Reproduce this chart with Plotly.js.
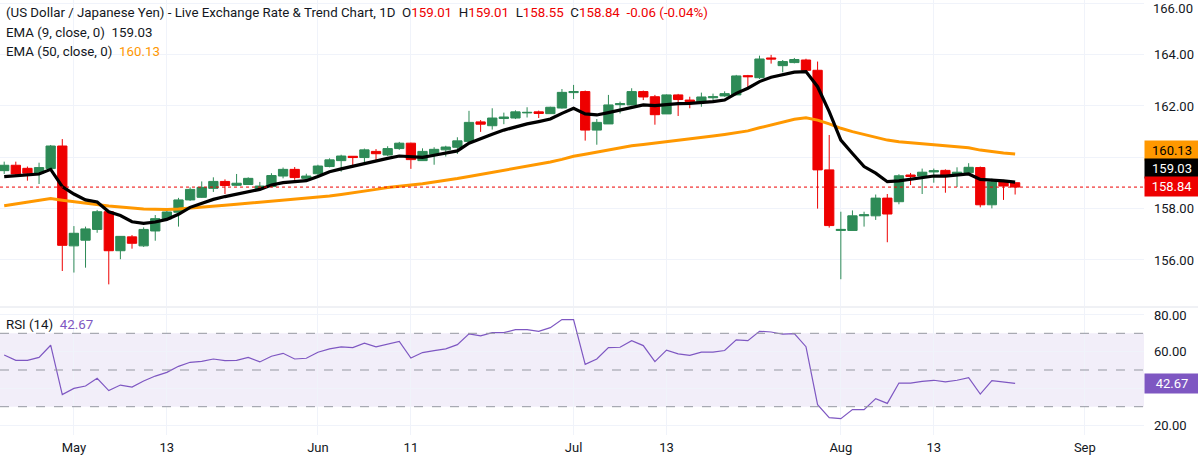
<!DOCTYPE html>
<html>
<head>
<meta charset="utf-8">
<script src="https://cdn.plot.ly/plotly-3.0.1.min.js"></script>
<style>
  html, body { margin: 0; padding: 0; background: #ffffff; }
  #chart { width: 1198px; height: 459px; }
</style>
</head>
<body>
<div id="chart"></div>
<script>
// ---- Data (USD/JPY daily candles) ----
const openP  = [159.48,159.69,159.57,159.38,159.56,160.44,156.55,156.77,157.19,157.88,
                156.36,156.90,156.55,157.13,157.60,157.86,158.34,158.44,158.79,159.06,
                158.91,158.94,158.78,158.86,159.27,159.53,159.18,159.36,159.64,159.87,
                160.04,159.99,160.23,160.09,160.34,160.55,159.87,160.12,160.29,160.39,
                160.62,161.38,161.23,161.51,161.53,161.73,161.77,161.70,161.92,162.52,
                162.56,161.06,161.30,162.05,162.04,162.56,162.36,161.69,162.43,162.23,
                162.16,162.32,162.39,162.43,163.18,163.10,163.87,163.57,163.69,163.79,
                163.39,159.51,157.15,157.15,157.72,157.72,158.41,158.27,159.31,159.27,
                159.43,159.49,159.30,159.40,159.60,158.15,159.04,159.01];
const highP  = [159.83,159.83,159.64,159.79,160.48,160.71,157.32,157.30,157.95,157.88,
                156.93,156.97,157.27,157.75,157.95,158.42,158.83,159.06,159.22,159.14,
                159.35,159.22,159.04,159.38,159.60,159.62,159.36,159.71,159.96,160.10,
                160.04,160.34,160.32,160.43,160.60,160.57,160.35,160.39,160.45,160.78,
                161.81,161.45,161.91,161.74,161.83,161.95,161.82,161.97,162.66,162.82,
                162.60,161.49,162.43,162.17,162.69,162.60,162.43,162.45,162.47,162.36,
                162.52,162.48,162.57,163.21,163.21,163.96,163.99,163.79,163.87,163.84,
                163.73,160.87,157.88,157.93,157.88,158.55,158.57,159.34,159.39,159.56,
                159.56,159.53,159.61,159.77,159.64,159.17,159.12,159.01];
const lowP   = [159.35,159.30,159.09,158.96,159.55,155.57,155.51,155.70,157.06,155.05,
                156.03,156.44,156.51,156.75,157.56,157.30,158.30,158.42,158.65,158.57,
                158.88,158.94,158.77,158.83,159.18,159.12,159.16,159.27,159.61,159.44,
                159.61,159.71,159.83,160.05,160.29,159.55,159.87,159.71,160.03,160.13,
                160.62,160.99,161.08,161.29,161.49,161.55,161.53,161.70,161.90,162.27,
                160.65,160.49,161.30,161.71,162.03,162.23,161.27,161.69,161.61,161.91,
                161.97,162.17,162.36,162.43,162.69,163.05,163.65,163.31,163.66,163.30,
                158.00,157.26,155.25,157.15,157.30,157.56,156.69,158.17,158.92,158.57,
                159.01,158.62,158.84,159.38,158.05,158.01,158.34,158.55];
const closeP = [159.69,159.35,159.38,159.60,160.44,156.57,157.04,157.21,157.88,156.36,
                156.92,156.65,157.19,157.61,157.87,158.34,158.75,158.83,159.06,158.90,
                158.99,159.18,158.88,159.29,159.53,159.21,159.27,159.66,159.90,160.05,
                159.99,160.29,160.14,160.34,160.55,159.91,160.23,160.31,160.40,160.64,
                161.36,161.29,161.53,161.57,161.77,161.75,161.71,161.95,162.53,162.56,
                161.06,161.36,162.04,162.09,162.56,162.35,161.66,162.43,162.25,162.17,
                162.35,162.36,162.48,163.17,163.14,163.83,163.83,163.73,163.81,163.39,
                159.51,157.34,157.19,157.72,157.76,158.41,157.79,159.28,159.25,159.42,
                159.48,159.31,159.42,159.61,158.15,159.04,158.88,158.84];
const ema9   = [159.25,159.29,159.31,159.35,159.53,158.86,158.57,158.34,158.26,157.88,
                157.73,157.49,157.43,157.48,157.58,157.78,158.05,158.21,158.36,158.47,
                158.57,158.66,158.75,158.92,159.01,159.05,159.09,159.25,159.44,159.55,
                159.66,159.77,159.86,159.96,160.05,160.03,160.00,160.08,160.16,160.25,
                160.55,160.74,160.90,161.06,161.19,161.30,161.39,161.49,161.71,161.91,
                161.69,161.65,161.74,161.84,161.97,162.04,162.01,162.06,162.09,162.10,
                162.13,162.17,162.23,162.49,162.69,162.95,163.12,163.23,163.32,163.34,
                162.75,161.78,160.67,160.15,159.64,159.38,159.05,159.08,159.14,159.21,
                159.27,159.27,159.30,159.35,159.14,159.12,159.08,159.03];
const ema50  = [158.11,158.18,158.24,158.31,158.39,158.33,158.27,158.21,158.15,158.10,
                158.06,158.02,157.99,157.98,157.97,157.99,158.02,158.05,158.09,158.13,
                158.17,158.21,158.25,158.29,158.32,158.36,158.40,158.44,158.49,158.55,
                158.61,158.68,158.75,158.82,158.88,158.92,158.97,159.03,159.10,159.17,
                159.25,159.33,159.41,159.49,159.57,159.66,159.74,159.82,159.92,160.04,
                160.12,160.20,160.29,160.38,160.45,160.50,160.55,160.60,160.66,160.72,
                160.77,160.83,160.89,160.96,161.03,161.15,161.27,161.38,161.48,161.54,
                161.45,161.30,161.13,161.00,160.89,160.78,160.67,160.61,160.57,160.53,
                160.49,160.44,160.40,160.37,160.28,160.22,160.17,160.13];
const rsi14  = [58.2,55.3,55.3,56.9,63.5,36.6,40.0,41.3,45.5,38.8,
                41.8,40.7,44.0,46.7,48.7,52.0,54.2,54.7,56.0,55.1,
                55.3,56.9,54.4,57.5,59.1,56.0,56.4,59.7,61.5,62.6,
                62.2,64.6,62.6,64.2,65.6,56.5,59.5,60.6,61.5,63.8,
                69.7,68.6,70.4,70.4,72.0,72.0,71.1,73.1,77.5,77.5,
                53.1,56.0,62.2,62.4,66.0,63.3,54.6,60.8,58.8,58.0,
                59.7,59.7,60.6,66.4,66.0,71.1,70.7,69.5,69.8,62.7,
                31.1,24.0,23.5,28.4,28.4,34.4,31.8,42.9,42.9,43.8,
                44.4,43.5,44.4,45.8,36.9,44.2,43.5,42.67];
// x-axis tick labels and the bar index each one sits on
const tickLabels = ['May','13','Jun','11','Jul','13','Aug','13','Sep'];
const tickBars   = [6, 14, 27, 35, 49, 57, 72, 80, 93];
const priceTicks = [156, 158, 160, 162, 164, 166];
const rsiTicks   = [20, 40, 60, 80];
// tick labels hidden behind the value boxes on the right scale (as in the reference)
const priceTicksHidden = [160];
const rsiTicksHidden   = [40];
// top tick label that sits at the very top edge (drawn as an annotation so it stays visible)
const priceTickTop = 166;
const lastChange = -0.06, lastChangePct = -0.04;

// ---- Build chart ----
const n = closeP.length;
const xs = closeP.map((_, i) => i);
const last = n - 1;
const GREEN = '#2e8b57', RED = '#ee0000', ORANGE = '#ff9800', PURPLE = '#7e57c2';
const TXT = '#131722';
const FONT = 'Roboto, "Liberation Sans", sans-serif';

const H = 459, MT = 0, MB = 24;
const plotH = H - MT - MB;
const py = (pix) => 1 - (pix - MT) / plotH;   // page pixel -> paper y

const traces = [
  {
    type: 'candlestick', x: xs, open: openP, high: highP, low: lowP, close: closeP,
    xaxis: 'x', yaxis: 'y',
    increasing: { line: { color: GREEN, width: 1 }, fillcolor: GREEN },
    decreasing: { line: { color: RED, width: 1 }, fillcolor: RED },
    whiskerwidth: 0, hoverinfo: 'skip', showlegend: false
  },
  { type: 'scatter', mode: 'lines', x: xs, y: ema50, xaxis: 'x', yaxis: 'y',
    line: { color: ORANGE, width: 3 }, hoverinfo: 'skip', showlegend: false },
  { type: 'scatter', mode: 'lines', x: xs, y: ema9, xaxis: 'x', yaxis: 'y',
    line: { color: '#000000', width: 3.2 }, hoverinfo: 'skip', showlegend: false },
  { type: 'scatter', mode: 'lines', x: xs, y: rsi14, xaxis: 'x', yaxis: 'y2',
    line: { color: PURPLE, width: 1.2 }, hoverinfo: 'skip', showlegend: false }
];

const f2 = (v) => v.toFixed(2);
const sp = '&nbsp;';
const red = (t) => '<span style="color:' + RED + '">' + t + '</span>';
const headerText = '(US Dollar / Japanese Yen) - Live Exchange Rate &amp; Trend Chart, 1D' + sp + sp +
  'O' + red(f2(openP[last])) + sp + sp + 'H' + red(f2(highP[last])) + sp + sp +
  'L' + red(f2(lowP[last])) + sp + sp + 'C' + red(f2(closeP[last])) + sp + sp +
  red(f2(lastChange) + ' (' + f2(lastChangePct) + '%)');

const leftLabel = (text, pix, size) => ({
  xref: 'paper', yref: 'paper', x: 0, xshift: 4, y: py(pix), xanchor: 'left', yanchor: 'middle',
  text: text, showarrow: false, font: { family: FONT, size: size || 13, color: TXT }
});
const boxLabel = (text, pix, bg, fg) => ({
  xref: 'paper', yref: 'paper', x: 1, y: py(pix), xanchor: 'left', yanchor: 'middle',
  text: text, showarrow: false, bgcolor: bg, borderpad: 2, width: 50, height: 15, align: 'center',
  font: { family: FONT, size: 13, color: fg }
});

const annotations = [
  leftLabel(headerText, 13, 13.3),
  leftLabel('EMA (9, close, 0)' + sp + sp + f2(ema9[last]), 32, 13.3),
  leftLabel('EMA (50, close, 0)' + sp + sp + '<span style="color:' + ORANGE + '">' + f2(ema50[last]) + '</span>', 51, 13.3),
  leftLabel('RSI (14)' + sp + sp + '<span style="color:' + PURPLE + '">' + f2(rsi14[last]) + '</span>', 324, 13.3),
  { xref: 'paper', yref: 'paper', x: 1, xshift: 8, y: 1, xanchor: 'left', yanchor: 'top',
    text: f2(priceTickTop), showarrow: false, borderpad: 0,
    font: { family: FONT, size: 13, color: TXT } },
  boxLabel(f2(ema50[last]), 150, ORANGE, '#000000'),
  boxLabel(f2(ema9[last]), 168.3, '#000000', '#ffffff'),
  boxLabel(f2(closeP[last]), 186.8, RED, '#ffffff'),
  boxLabel(f2(rsi14[last]), 383.5, PURPLE, '#ffffff')
];

const shapes = [
  { type: 'rect', xref: 'paper', x0: 0, x1: 1, yref: 'y2', y0: 30, y1: 70,
    fillcolor: 'rgba(126,87,194,0.1)', line: { width: 0 }, layer: 'below' },
  ...[70, 50, 30].map(v => ({ type: 'line', xref: 'paper', x0: 0, x1: 1, yref: 'y2', y0: v, y1: v,
    line: { color: '#9598a1', width: 1, dash: 'dash' } })),
  { type: 'line', xref: 'paper', x0: 0, x1: 1, yref: 'y', y0: closeP[last], y1: closeP[last],
    line: { color: RED, width: 1, dash: 'dot' } },
  { type: 'line', xref: 'paper', x0: 0, x1: 1198 / 1144, yref: 'paper', y0: py(307), y1: py(307),
    line: { color: '#e0e3eb', width: 1 } }
];

const tickText = (vals, hidden) => vals.map(v => hidden.includes(v) ? '' : f2(v));

const layout = {
  width: 1198, height: H,
  margin: { l: 0, r: 54, t: MT, b: MB, pad: 0 },
  paper_bgcolor: '#ffffff', plot_bgcolor: '#ffffff',
  showlegend: false, boxgap: 0.2, boxgroupgap: 0,
  font: { family: FONT, size: 13, color: TXT },
  xaxis: {
    anchor: 'y2', range: [-0.361, 98.09], fixedrange: true,
    tickmode: 'array', tickvals: tickBars, ticktext: tickLabels,
    showgrid: true, gridcolor: '#f0f3fa', gridwidth: 1, zeroline: false,
    showline: false, ticks: '', ticklabelstandoff: 3,
    tickfont: { family: FONT, size: 13, color: TXT },
    rangeslider: { visible: false }
  },
  yaxis: {
    domain: [1 - 306 / plotH, 1], anchor: 'x', side: 'right',
    range: [154.207, 166.128], fixedrange: true,
    tickmode: 'array', tickvals: priceTicks,
    ticktext: tickText(priceTicks, priceTicksHidden.concat([priceTickTop])),
    showgrid: true, gridcolor: '#f0f3fa', zeroline: false, showline: false,
    ticks: '', ticklabelstandoff: 9,
    tickfont: { family: FONT, size: 13, color: TXT }
  },
  yaxis2: {
    domain: [0, (plotH - 308) / plotH], anchor: 'x', side: 'right',
    range: [14.58, 83.79], fixedrange: true,
    tickmode: 'array', tickvals: rsiTicks, ticktext: tickText(rsiTicks, rsiTicksHidden),
    showgrid: true, gridcolor: '#f0f3fa', zeroline: false, showline: false,
    ticks: '', ticklabelstandoff: 9,
    tickfont: { family: FONT, size: 13, color: TXT }
  },
  shapes: shapes,
  annotations: annotations
};

Plotly.newPlot('chart', traces, layout, { staticPlot: true, displayModeBar: false });
</script>
</body>
</html>
